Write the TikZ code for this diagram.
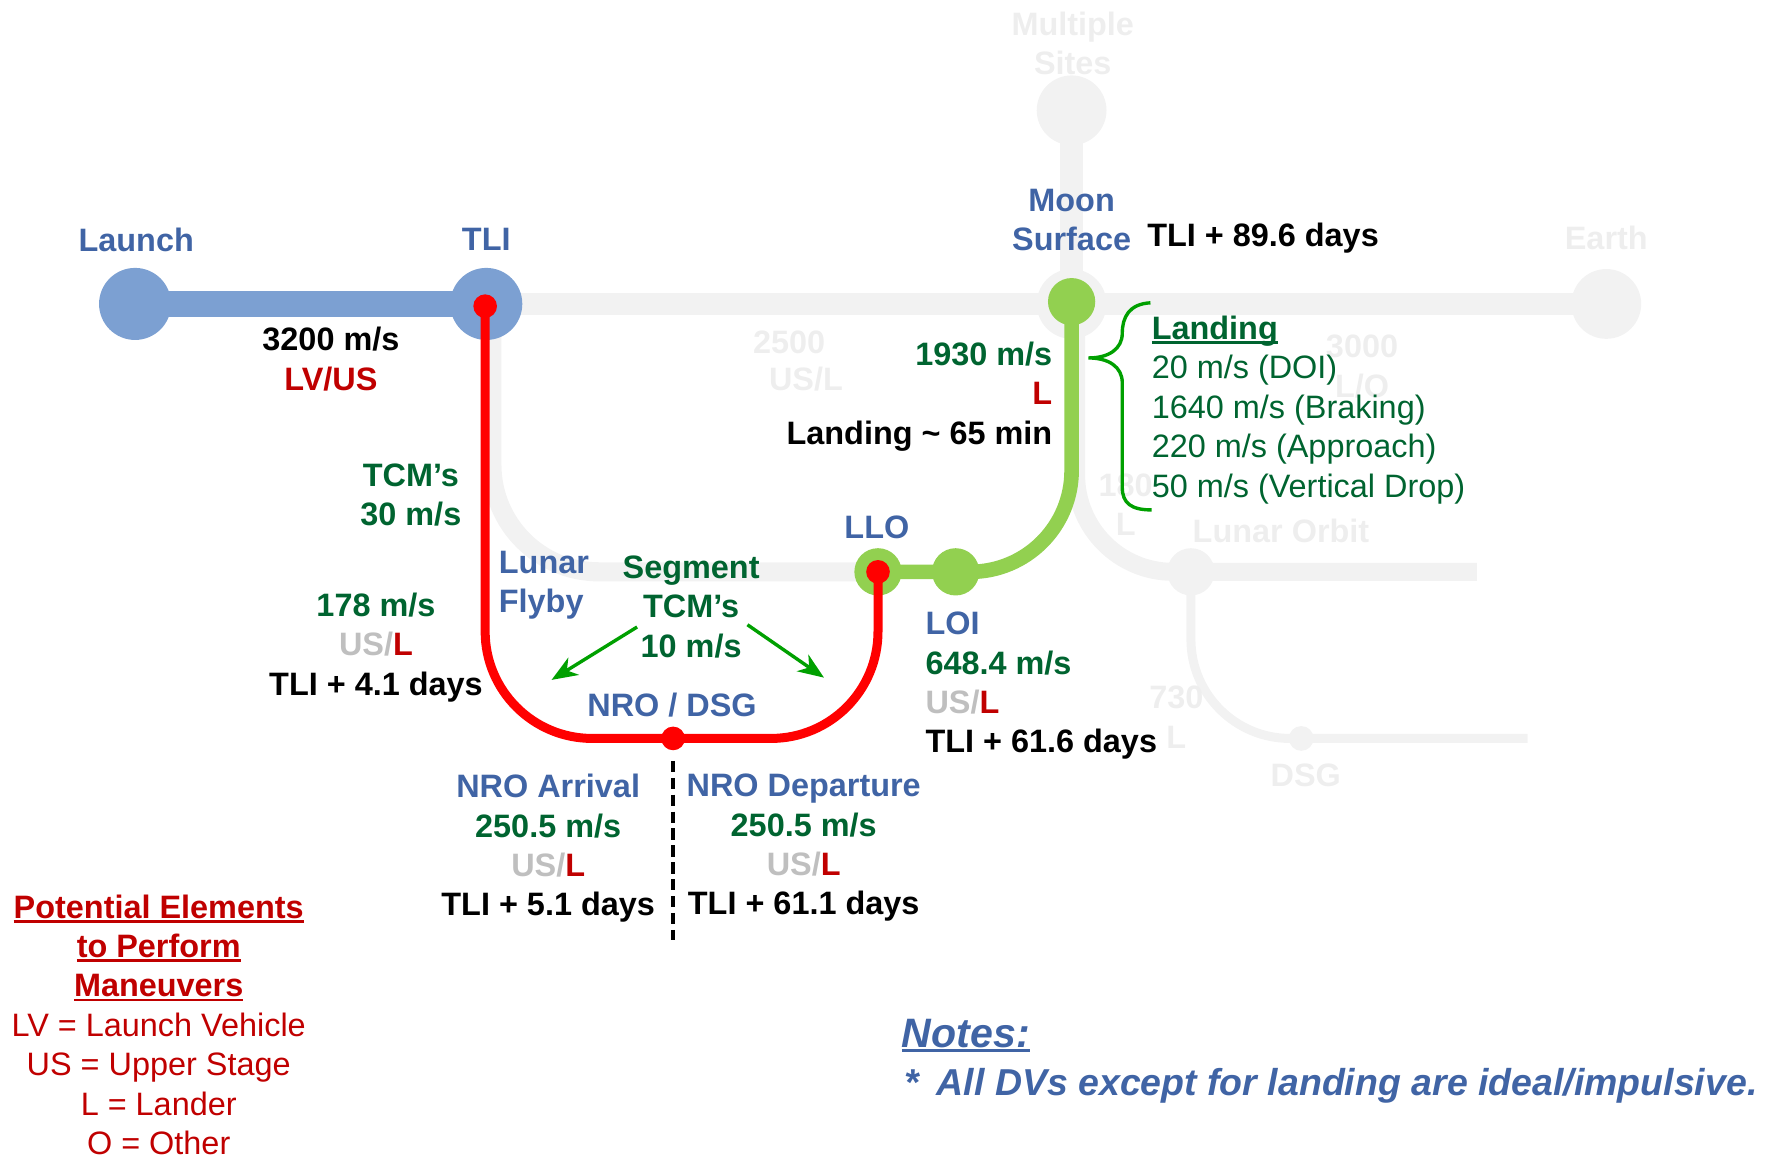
\documentclass[tikz,border=0pt]{standalone}
\usepackage{fontspec}
\setmainfont{Liberation Sans}
\usetikzlibrary{arrows.meta}
\definecolor{tblue}{RGB}{64,100,165}
\definecolor{cblue}{RGB}{124,160,210}
\definecolor{lgreen}{RGB}{146,208,80}
\definecolor{dgreen}{RGB}{0,100,48}
\definecolor{dred}{RGB}{192,0,0}
\definecolor{usgray}{RGB}{191,191,191}
\definecolor{faint}{RGB}{238,238,238}
\definecolor{fline}{RGB}{242,242,242}
\definecolor{agreen}{RGB}{0,160,0}
\newcommand\myul[1]{\setbox0\hbox{#1}\rlap{\rule[-4pt]{\wd0}{2.2pt}}\box0}
\begin{document}
\begin{tikzpicture}[x=1pt,y=-1pt,
  txt/.style={inner sep=0pt,anchor=north,align=center,font=\bfseries\fontsize{28.8}{35}\selectfont},
  dot/.style={circle,inner sep=0pt,minimum size=#1},
  fcirc/.style={dot=62pt,fill=fline},
  bcirc/.style={dot=64pt,fill=cblue},
  gcirc/.style={dot=42pt,fill=lgreen},
  rdot/.style={dot=21pt,fill=red},
  fpath/.style={draw=fline,line cap=butt},
  arr/.style={agreen,line width=3pt,-{Stealth[length=23pt,width=18pt,inset=7pt]}}]
\useasboundingbox (0,0) rectangle (1568,1026);
% coordinates
\coordinate (cLaunch) at (120,270);
\coordinate (cTLI) at (432,270);
\coordinate (cMoon) at (952,270);
\coordinate (cMoonDown) at (956,270);
\coordinate (cMoonG) at (952,268);
\coordinate (cEarth) at (1427,270);
\coordinate (cSites) at (952,98);
\coordinate (cLLO) at (780,508);
\coordinate (cLOI) at (849,508);
\coordinate (cLOrb) at (1058,508);
\coordinate (cDSG) at (1156,656);
\coordinate (cNRO) at (598,656);
\coordinate (cFlyTop) at (437,270);
\coordinate (cOrbEnd) at (1312,508);
\coordinate (cDSGEnd) at (1357,656);
\coordinate (cRedTop) at (431,272);
\coordinate (dTop) at (598,676);
\coordinate (dBot) at (598,835);
\coordinate (a1s) at (566,557);
\coordinate (a1e) at (490,604);
\coordinate (a2s) at (664,555);
\coordinate (a2e) at (732,602);
\coordinate (bTop) at (1022,269);
\coordinate (bTip) at (967,318);
\coordinate (bBot) at (1023,453);
% faint network
\draw[fpath,line width=20pt] (cTLI) -- (cEarth);
\draw[fpath,line width=20pt] (cMoon) -- (cSites);
\draw[fpath,line width=17pt,rounded corners=95pt] (cFlyTop) -- (cFlyTop |- cLLO) -- (cLLO);
\draw[fpath,line width=16pt,rounded corners=86pt] (cMoonDown) -- (cMoonDown |- cLOrb) -- (cOrbEnd);
\draw[fpath,line width=8pt,rounded corners=88pt] (cLOrb) -- (cLOrb |- cDSG) -- (cDSGEnd);
\node[fcirc] (nMoonF) at (cMoon) {};
\node[fcirc] (nEarth) at (cEarth) {};
\node[fcirc] (nSites) at (cSites) {};
\node[dot=42pt,fill=fline] (nLOrb) at (cLOrb) {};
\node[dot=22pt,fill=fline] (nDSG) at (cDSG) {};
% faint labels
\node[txt,text=faint] (tSites) at (953,10.5) {Multiple\\Sites};
\node[txt,text=faint] (tEarth) at (1427,200.5) {Earth};
\node[txt,text=faint] (t2500) at (701,293.5) {2500};
\node[txt,text=faint] (t2500b) at (716,325.5) {US/L};
\node[txt,text=faint] (t3000) at (1210,297.5) {3000\\L/O};
\node[txt,text=faint] (t180) at (1000,420.5) {180\\L};
\node[txt,text=faint] (tLOrb) at (1138,460.5) {Lunar Orbit};
\node[txt,text=faint] (t730) at (1045,609.5) {730\\L};
\node[txt,text=faint] (tDSG) at (1160,678.5) {DSG};
% blue launch segment
\draw[cblue,line width=23pt] (cLaunch) -- (cTLI);
\node[bcirc] (nLaunch) at (cLaunch) {};
\node[bcirc] (nTLI) at (cTLI) {};
% green lander segment
\draw[lgreen,line width=13pt,rounded corners=90pt] (cMoonG) -- (cMoonG |- cLOI) -- (cLLO);
\node[gcirc] (nMoon) at (cMoonG) {};
\node[gcirc] (nLLO) at (cLLO) {};
\node[gcirc] (nLOI) at (cLOI) {};
% red path
\draw[red,line width=8pt,rounded corners=95pt] (cRedTop) -- (cRedTop |- cNRO) -- (cLLO |- cNRO) -- (cLLO);
\node[rdot] (rTLI) at (cRedTop) {};
\node[rdot] (rNRO) at (cNRO) {};
\node[rdot] (rLLO) at (cLLO) {};
% dashed divider
\draw[black,line width=3.3pt,dash pattern=on 10pt off 5pt] (dTop) -- (dBot);
% green arrows
\draw[arr] (a1s) -- (a1e);
\draw[arr] (a2s) -- (a2e);
% brace
\draw[agreen,line width=3pt] (bTop) .. controls (1003,270) and (997,282) .. (997,296)
  .. controls (997,310) and (985,318) .. (bTip)
  .. controls (985,318) and (997,326) .. (997,340) -- (997,433)
  .. controls (997,447) and (1005,453) .. (bBot);
% labels
\node[txt,text=tblue] (tLaunch) at (121,202.5) {Launch};
\node[txt,text=tblue] (tTLI) at (432,202.5) {TLI};
\node[txt,text=tblue] (tMoon) at (952,167.5) {Moon\\Surface};
\node[txt,anchor=north west] (tT896) at (1019,197.5) {TLI + 89.6 days};
\node[txt] (t3200) at (294,290.5) {3200 m/s\\{\color{dred}LV/US}};
\node[txt,anchor=north east,align=right,text=dgreen] (t1930) at (935,303.5) {1930 m/s\\{\color{dred}L}\\{\color{black}Landing \textasciitilde{} 65 min}};
\node[txt,anchor=north west,align=left,text=dgreen] (tLand) at (1023,280.5) {\myul{Landing}\\{\mdseries 20 m/s (DOI)}\\{\mdseries 1640 m/s (Braking)}\\{\mdseries 220 m/s (Approach)}\\{\mdseries 50 m/s (Vertical Drop)}};
\node[txt,text=dgreen] (tTCM) at (365,411.5) {TCM’s\\30 m/s};
\node[txt,text=tblue] (tLLO) at (779,458.5) {LLO};
\node[txt,anchor=north west,align=left,text=tblue] (tFly) at (443,489.5) {Lunar\\Flyby};
\node[txt,text=dgreen] (tSeg) at (614,493.5) {Segment\\TCM’s\\10 m/s};
\node[txt,text=dgreen] (t178) at (334,526.5) {178 m/s\\{\color{usgray}US/}{\color{dred}L}\\{\color{black}TLI + 4.1 days}};
\node[txt,anchor=north west,align=left,text=tblue] (tLOI) at (822,543.5) {LOI\\{\color{dgreen}648.4 m/s}\\{\color{usgray}US/}{\color{dred}L}\\{\color{black}TLI + 61.6 days}};
\node[txt,text=tblue] (tNRO) at (597,615.5) {NRO / DSG};
\node[txt,text=tblue] (tArr) at (487,687.5) {NRO Arrival\\{\color{dgreen}250.5 m/s}\\{\color{usgray}US/}{\color{dred}L}\\{\color{black}TLI + 5.1 days}};
\node[txt,text=tblue] (tDep) at (714,687.5) {NRO Departure\\{\color{dgreen}250.5 m/s}\\{\color{usgray}US/}{\color{dred}L}\\{\color{black}TLI + 61.1 days}};
\node[txt,text=dred] (tLeg) at (141,794.5) {\myul{Potential Elements}\\\myul{to Perform}\\\myul{Maneuvers}\\{\mdseries LV = Launch Vehicle}\\{\mdseries US = Upper Stage}\\{\mdseries L = Lander}\\{\mdseries O = Other}};
\node[txt,anchor=north west,text=tblue,font=\bfseries\itshape\fontsize{36.5}{40}\selectfont] (tNotes) at (801,905) {\myul{Notes:}};
\node[txt,anchor=north west,text=tblue,font=\bfseries\itshape\fontsize{33.3}{40}\selectfont] (tNote1) at (803,949) {*\hspace{16pt}All DVs except for landing are ideal/impulsive.};
\end{tikzpicture}
\end{document}
